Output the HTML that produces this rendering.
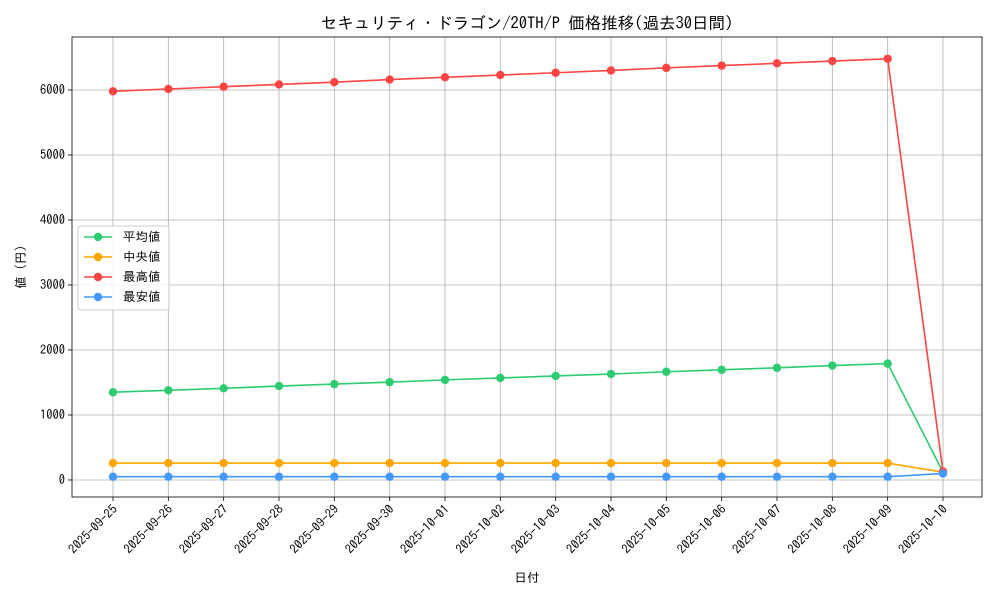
<!DOCTYPE html>
<html><head><meta charset="utf-8"><style>
body{margin:0;background:#fff;}
svg text{font-family:"IPAGothic","Noto Sans CJK JP",sans-serif;fill:#000;}
</style></head><body>
<svg id="chart" width="1000" height="600"></svg>
<script>
const categories=["2025-09-25","2025-09-26","2025-09-27","2025-09-28","2025-09-29","2025-09-30","2025-10-01","2025-10-02","2025-10-03","2025-10-04","2025-10-05","2025-10-06","2025-10-07","2025-10-08","2025-10-09","2025-10-10"];
const avgValues=[1350,1380,1410,1445,1475,1505,1540,1570,1600,1630,1665,1695,1725,1760,1790,120];
const medianValues=[260,260,260,260,260,260,260,260,260,260,260,260,260,260,260,120];
const maxValues=[5980,6015,6050,6085,6120,6160,6195,6230,6265,6300,6340,6375,6410,6445,6480,130];
const minValues=[50,50,50,50,50,50,50,50,50,50,50,50,50,50,50,100];
const yTicks=[0,1000,2000,3000,4000,5000,6000];
const seriesNames=["平均値","中央値","最高値","最安値"];
const seriesColors=["#2ecc71","#ffa500","#ff4444","#4499ff"];

const NS="http://www.w3.org/2000/svg";
const svg=document.getElementById('chart');
const L=72,R=982,T=37,B=497;
const xMin=-0.741,xMax=categories.length-1+0.705,yMin=-262,yMax=6815;
const xs=i=>L+(i-xMin)/(xMax-xMin)*(R-L);
const ys=v=>B-(v-yMin)/(yMax-yMin)*(B-T);
function mk(tag,attrs,parent){const e=document.createElementNS(NS,tag);for(const k in attrs)e.setAttribute(k,attrs[k]);(parent||svg).appendChild(e);return e;}

const grid=mk('g',{});


categories.forEach((c,i)=>{
  const x=xs(i);
  mk('line',{x1:x,x2:x,y1:T,y2:B,stroke:'#b0b0b0','stroke-width':0.8},grid);
  mk('line',{x1:x,x2:x,y1:B,y2:B+4,stroke:'#000','stroke-width':0.8},grid);
  const t=mk('text',{x:x+5,y:B+13,'font-size':12.5,'text-anchor':'end',transform:`rotate(-45 ${x+5} ${B+13})`});
  t.textContent=c;
  
  
});
yTicks.forEach(v=>{
  const y=ys(v);
  mk('line',{x1:L,x2:R,y1:y,y2:y,stroke:'#b0b0b0','stroke-width':0.8},grid);
  mk('line',{x1:L-4,x2:L,y1:y,y2:y,stroke:'#000','stroke-width':0.8},grid);
  const t=mk('text',{x:L-7,y:y+4,'font-size':12.5,'text-anchor':'end'});
  t.textContent=v;
  
  
});

const all=[avgValues,medianValues,maxValues,minValues];
all.forEach((vals,s)=>{
  const g=mk('g',{});
  
  
  mk('polyline',{points:vals.map((v,i)=>xs(i)+','+ys(v)).join(' '),fill:'none',stroke:seriesColors[s],'stroke-width':1.6},g);
  vals.forEach((v,i)=>{
    const c=mk('circle',{cx:xs(i),cy:ys(v),r:4.2,fill:seriesColors[s]},g);
    
    
  });
});

const frame=mk('rect',{x:L,y:T,width:R-L,height:B-T,fill:'none',stroke:'#000','stroke-width':0.8});



const title=mk('text',{x:(L+R)/2,y:29,'font-size':16.5,'text-anchor':'middle'});
title.textContent='セキュリティ・ドラゴン/20TH/P 価格推移(過去30日間)';


const xt=mk('text',{x:(L+R)/2,y:582,'font-size':12.5,'text-anchor':'middle'});
xt.textContent='日付';


const yt=mk('text',{x:25,y:(T+B)/2,'font-size':12.5,'text-anchor':'middle',transform:`rotate(-90 25 ${(T+B)/2})`});
yt.textContent='値 (円)';



const lg=mk('g',{});


mk('rect',{x:78,y:226,width:91,height:84,rx:3,fill:'#fff','fill-opacity':0.85,stroke:'#ccc'},lg);
seriesNames.forEach((n,s)=>{
  const y=237+s*20;
  const e=mk('g',{},lg);
  
  
  mk('line',{x1:84,x2:112,y1:y,y2:y,stroke:seriesColors[s],'stroke-width':1.6},e);
  mk('circle',{cx:98,cy:y,r:4.2,fill:seriesColors[s]},e);
  const t=mk('text',{x:123,y:y+4,'font-size':12.5},e);
  t.textContent=n;
});
</script>
</body></html>
